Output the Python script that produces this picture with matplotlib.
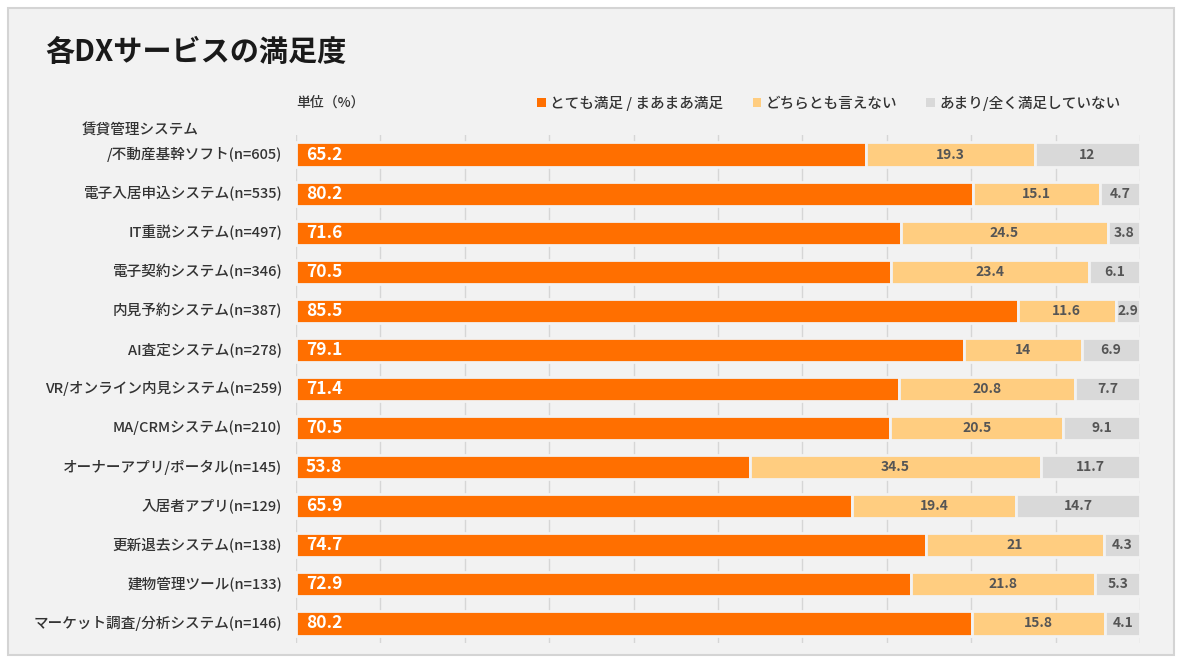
import matplotlib.pyplot as plt
from matplotlib.patches import Rectangle
from matplotlib.transforms import blended_transform_factory

plt.rcParams['font.family'] = ['Noto Sans CJK JP', 'DejaVu Sans']

# データ
categories = [
    '賃貸管理システム\n/不動産基幹ソフト(n=605)',
    '電子入居申込システム(n=535)',
    'IT重説システム(n=497)',
    '電子契約システム(n=346)',
    '内見予約システム(n=387)',
    'AI査定システム(n=278)',
    'VR/オンライン内見システム(n=259)',
    'MA/CRMシステム(n=210)',
    'オーナーアプリ/ポータル(n=145)',
    '入居者アプリ(n=129)',
    '更新退去システム(n=138)',
    '建物管理ツール(n=133)',
    'マーケット調査/分析システム(n=146)',
]
satisfied = [65.2, 80.2, 71.6, 70.5, 85.5, 79.1, 71.4, 70.5, 53.8, 65.9, 74.7, 72.9, 80.2]
neutral = [19.3, 15.1, 24.5, 23.4, 11.6, 14, 20.8, 20.5, 34.5, 19.4, 21, 21.8, 15.8]
unsatisfied = [12, 4.7, 3.8, 6.1, 2.9, 6.9, 7.7, 9.1, 11.7, 14.7, 4.3, 5.3, 4.1]
series_names = ['とても満足 / まあまあ満足', 'どちらとも言えない', 'あまり/全く満足していない']

colors = ['#ff6f00', '#ffcd80', '#d9d9d9']
bg = '#f2f2f2'

# 100%積み上げ（合計で正規化）
totals = [a + b + c for a, b, c in zip(satisfied, neutral, unsatisfied)]
p1 = [a / t * 100 for a, t in zip(satisfied, totals)]
p2 = [b / t * 100 for b, t in zip(neutral, totals)]
p3 = [c / t * 100 for c, t in zip(unsatisfied, totals)]
left2 = p1
left3 = [a + b for a, b in zip(p1, p2)]

fig = plt.figure(figsize=(11.77, 6.59), dpi=100, facecolor='white')
fig.patches.append(Rectangle((8 / 1177, 4 / 659), 1166 / 1177, 647 / 659,
                             transform=fig.transFigure, facecolor=bg,
                             edgecolor='#d4d4d4', linewidth=1.5, zorder=-10))

ax = fig.add_axes([296 / 1177, 16 / 659, 844 / 1177, 508 / 659])
ax.set_facecolor('none')
ax.set_zorder(1)

y = list(range(len(categories)))

b1 = ax.barh(y, p1, height=0.62, color=colors[0], edgecolor=bg, linewidth=2, label=series_names[0], zorder=3)
b2 = ax.barh(y, p2, left=left2, height=0.62, color=colors[1], edgecolor=bg, linewidth=2, label=series_names[1], zorder=3)
b3 = ax.barh(y, p3, left=left3, height=0.62, color=colors[2], edgecolor=bg, linewidth=2, label=series_names[2], zorder=3)

# 値ラベル
for i in y:
    ax.annotate(f'{satisfied[i]:g}', (0, i), xytext=(7, 0), textcoords='offset points',
                ha='left', va='center', color='white', fontsize=12.5, fontweight='bold', zorder=4)
    ax.text(left2[i] + p2[i] / 2, i, f'{neutral[i]:g}', ha='center', va='center',
            color='#555555', fontsize=10, fontweight='bold', zorder=4)
    ax.text(left3[i] + p3[i] / 2, i, f'{unsatisfied[i]:g}', ha='center', va='center',
            color='#555555', fontsize=10, fontweight='bold', zorder=4)

ax.set_xlim(0, 100)
ax.set_ylim(len(categories) - 0.5, -0.5)
ax.set_xticks(range(0, 101, 10))
ax.xaxis.grid(True, color='#d6d6d6', linewidth=1, zorder=0)
ax.set_axisbelow(True)
ax.tick_params(left=False, bottom=False, labelbottom=False, labelleft=False)
for s in ax.spines.values():
    s.set_visible(False)

# カテゴリラベル
tr = blended_transform_factory(ax.transAxes, ax.transData)
for i, lab in enumerate(categories):
    lines = lab.split('\n')
    ax.annotate(lines[-1], (0, i), xycoords=tr, xytext=(-10, 0), textcoords='offset points',
                ha='right', va='center', fontsize=10.5, color='#333333', fontweight='medium')
    if len(lines) > 1:
        ax.annotate(lines[0], (0, i), xycoords=tr, xytext=(-154, 18), textcoords='offset points',
                    ha='left', va='center', fontsize=10.5, color='#333333', fontweight='medium')

fig.text(45 / 1177, 1 - 52 / 659, '各DXサービスの満足度', fontsize=21, fontweight='bold',
         color='#1a1a1a', ha='left', va='center')
fig.text(296 / 1177, 1 - 103 / 659, '単位（%）', fontsize=10, color='#333333',
         ha='left', va='center', fontweight='medium')

leg = fig.legend(handles=[b1, b2, b3], loc='center right', bbox_to_anchor=(1134 / 1177, 1 - 103 / 659),
                 ncol=3, frameon=False, handlelength=0.6, handleheight=0.6, handletextpad=0.3,
                 columnspacing=2.0, fontsize=10.5)
for t in leg.get_texts():
    t.set_color('#333333')
    t.set_fontweight('medium')
for h in leg.legend_handles:
    h.set_edgecolor('none')

fig.savefig('out.png', dpi=100, facecolor='white')
